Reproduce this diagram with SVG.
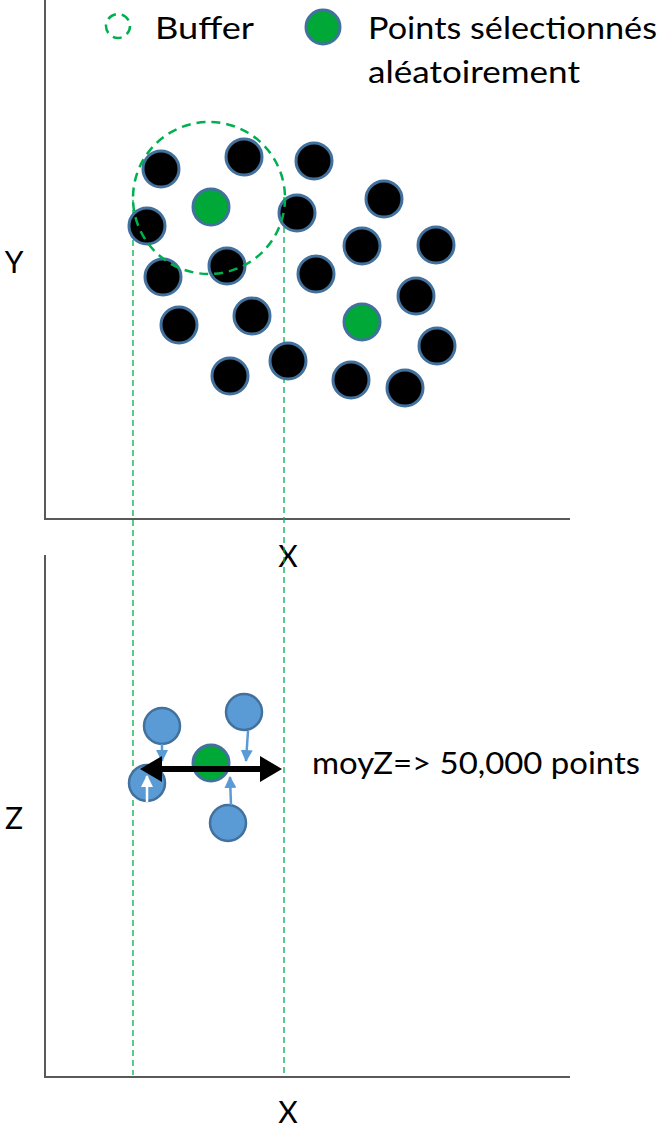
<svg xmlns="http://www.w3.org/2000/svg" width="664" height="1128" viewBox="0 0 664 1128">
<style>
.t{font-family:Lato,"Liberation Sans",sans-serif;font-size:30px;fill:#000}
.pt{fill:#000;stroke:#41719C;stroke-width:3}
.sel{fill:#00A838;stroke:#41719C;stroke-width:3}
.bl{fill:#5B9BD5;stroke:#41719C;stroke-width:2.5}
.ax{stroke:#595959;stroke-width:2;fill:none}
.vd{stroke:#00B050;stroke-width:1.3;stroke-dasharray:6 4;fill:none}
.buf{stroke:#00B050;stroke-width:2.5;stroke-dasharray:9 6;fill:none}
.sa{stroke:#5B9BD5;stroke-width:2.5;fill:none}
</style>
<defs>
<marker id="ab" markerWidth="12" markerHeight="12" refX="11" refY="6" orient="auto" markerUnits="userSpaceOnUse"><path d="M0,0 L12,6 L0,12 Z" fill="#5B9BD5"/></marker>
<marker id="aw" markerWidth="12" markerHeight="12" refX="11" refY="6" orient="auto" markerUnits="userSpaceOnUse"><path d="M0,0 L12,6 L0,12 Z" fill="#fff"/></marker>
</defs>
<g id="axes">
<path class="ax" d="M45,0 V519 H570"/>
<path class="ax" d="M45,555 V1077 H570"/>
<text class="t" x="14" y="273" text-anchor="middle">Y</text>
<text class="t" x="288" y="567" text-anchor="middle">X</text>
<text class="t" x="14" y="829" text-anchor="middle">Z</text>
<text class="t" x="288" y="1123" text-anchor="middle">X</text>
</g>
<g id="legend">
<circle class="buf" cx="118" cy="26" r="12" stroke-width="2" stroke-dasharray="6 4"/>
<text class="t" x="155" y="39" textLength="99" lengthAdjust="spacingAndGlyphs">Buffer</text>
<circle class="sel" cx="323" cy="27" r="17"/>
<text class="t" x="368" y="39" textLength="289" lengthAdjust="spacingAndGlyphs">Points sélectionnés</text>
<text class="t" x="368" y="83" textLength="212" lengthAdjust="spacingAndGlyphs">aléatoirement</text>
</g>
<g id="connectors">
<line class="vd" x1="133" y1="200" x2="133" y2="1075"/>
<line class="vd" x1="284" y1="197" x2="284" y2="1075"/>
</g>
<g id="points-xy">
<circle class="pt" cx="161" cy="169" r="18"/>
<circle class="pt" cx="244" cy="157" r="18"/>
<circle class="pt" cx="147" cy="226" r="18"/>
<circle class="pt" cx="227" cy="266" r="18"/>
<circle class="pt" cx="163" cy="277" r="18"/>
<circle class="pt" cx="297" cy="213" r="18"/>
<circle class="pt" cx="314" cy="161" r="18"/>
<circle class="pt" cx="384" cy="199" r="18"/>
<circle class="pt" cx="362" cy="246" r="18"/>
<circle class="pt" cx="436" cy="245" r="18"/>
<circle class="pt" cx="316" cy="274" r="18"/>
<circle class="pt" cx="416" cy="296" r="18"/>
<circle class="pt" cx="437" cy="346" r="18"/>
<circle class="pt" cx="288" cy="361" r="18"/>
<circle class="pt" cx="351" cy="380" r="18"/>
<circle class="pt" cx="405" cy="388" r="18"/>
<circle class="pt" cx="179" cy="325" r="18"/>
<circle class="pt" cx="252" cy="316" r="18"/>
<circle class="pt" cx="230" cy="376" r="18"/>
<circle class="sel" cx="211" cy="207" r="18"/>
<circle class="sel" cx="362" cy="322" r="18"/>
</g>
<g id="buffer">
<circle class="buf" cx="209" cy="198" r="76"/>
</g>
<g id="points-xz">
<circle class="bl" cx="162" cy="726" r="18"/>
<circle class="bl" cx="244" cy="712" r="18"/>
<circle class="bl" cx="147" cy="783" r="18"/>
<circle class="bl" cx="228" cy="823" r="18"/>
<circle class="sel" cx="211" cy="763" r="18"/>
</g>
<g id="arrows">
<line class="sa" x1="162" y1="744" x2="162" y2="761" marker-end="url(#ab)"/>
<line class="sa" x1="248" y1="731" x2="246" y2="761" marker-end="url(#ab)"/>
<line class="sa" x1="231" y1="805" x2="230" y2="777" marker-end="url(#ab)"/>
<line stroke="#fff" stroke-width="2.5" x1="147" y1="802" x2="147" y2="776" marker-end="url(#aw)"/>
<path d="M158,769 H264" stroke="#000" stroke-width="6"/>
<path d="M140,769 L162,756 L162,782 Z" fill="#000"/>
<path d="M282,769 L260,756 L260,782 Z" fill="#000"/>
<text class="t" x="312" y="774" textLength="328" lengthAdjust="spacingAndGlyphs">moyZ=&gt; 50,000 points</text>
</g>
</svg>
